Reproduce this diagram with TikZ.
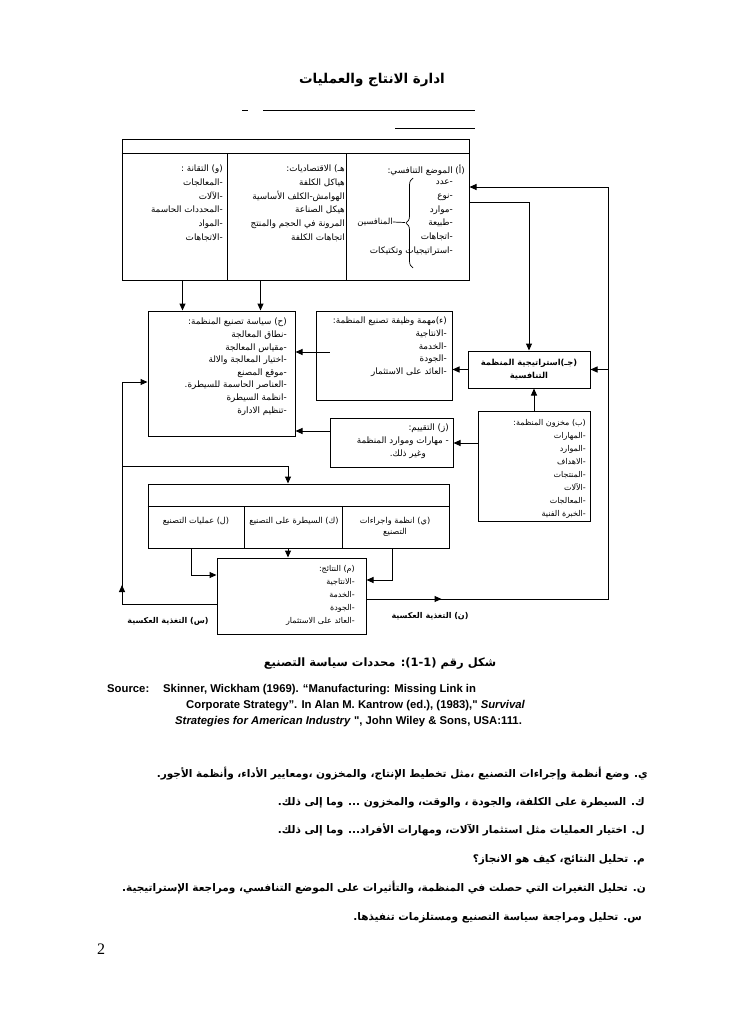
\documentclass[tikz,border=0pt]{standalone}
\usepackage{fontspec}
\usepackage{tikz}
\usetikzlibrary{arrows.meta, decorations.pathreplacing}
\setmainfont{Liberation Serif}
\newfontfamily\arabicfont[Script=Arabic]{DejaVu Sans}
\newfontfamily\srcfont{Liberation Sans}
\TeXXeTstate=1
\newcommand{\AR}[1]{\beginR#1\endR}

\begin{document}
\begin{tikzpicture}[x=1pt, y=-1pt]
    % 样式
    \tikzstyle{box} = [rectangle, draw, line width=1pt, inner sep=0pt]
    \tikzstyle{txt} = [inner sep=0pt, anchor=north east, align=right, font=\arabicfont\fontsize{8.8}{12.6}\selectfont]
    \tikzstyle{toptxt} = [txt, font=\arabicfont\fontsize{8.8}{13.7}\selectfont]
    \tikzstyle{smalltxt} = [txt, font=\arabicfont\fontsize{8}{13}\selectfont]
    \tikzstyle{cell} = [inner sep=0pt, align=center, font=\arabicfont\fontsize{8.2}{11.5}\selectfont]
    \tikzstyle{boldtxt} = [inner sep=0pt, font=\arabicfont\bfseries\fontsize{8}{13}\selectfont]
    \tikzstyle{para} = [inner sep=0pt, anchor=base east, font=\arabicfont\bfseries\fontsize{10.5}{12}\selectfont]
    \tikzstyle{src} = [inner sep=0pt, anchor=base west, font=\srcfont\bfseries\fontsize{11.3}{13}\selectfont]
    \tikzstyle{arrow} = [line width=1pt, -{Triangle[length=7pt, width=6pt]}]
    \tikzstyle{line} = [line width=1pt]

    \useasboundingbox (0,0) rectangle (728,1030);

    % 标题
    \node (title) [font=\arabicfont\bfseries\fontsize{13.5}{13.5}\selectfont] at (372,80) {\AR{ادارة الانتاج والعمليات}};
    \draw[line width=0.7pt] (242,110) -- (248,110);
    \draw[line width=0.7pt] (263,110) -- (475,110);
    \draw[line width=0.7pt] (395,128) -- (475,128);

    % 方框
    \node (env) [box, minimum width=347pt, minimum height=141pt] at (295.5,209.5) {};
    \draw[line] ([yshift=-15pt]env.north west) -- ([yshift=-15pt]env.north east);
    \draw[line] ([xshift=106pt,yshift=-15pt]env.north west) -- ([xshift=106pt]env.south west);
    \draw[line] ([xshift=225pt,yshift=-15pt]env.north west) -- ([xshift=225pt]env.south west);

    \node (policy) [box, minimum width=147pt, minimum height=125pt] at (221.5,373.5) {};
    \node (task) [box, minimum width=136pt, minimum height=89pt] at (384,355.5) {};
    \node (strategy) [box, minimum width=122pt, minimum height=37pt, align=center, font=\arabicfont\bfseries\fontsize{8.3}{13}\selectfont] at (529,369.5) {\AR{(جـ)استراتيجية المنظمة}\\\AR{التنافسية}};
    \node (review) [box, minimum width=123pt, minimum height=49pt] at (391.5,442.5) {};
    \node (stock) [box, minimum width=112pt, minimum height=110pt] at (534,466) {};
    \node (system) [box, minimum width=301pt, minimum height=64pt] at (298.5,516) {};
    \draw[line] ([yshift=-23pt]system.north west) -- ([yshift=-23pt]system.north east);
    \draw[line] ([xshift=97pt,yshift=-23pt]system.north west) -- ([xshift=97pt]system.south west);
    \draw[line] ([xshift=195pt,yshift=-23pt]system.north west) -- ([xshift=195pt]system.south west);
    \node (result) [box, minimum width=149pt, minimum height=76pt] at (291.5,596) {};

    % 文字
    \node (tA) [txt] at (465,165) {\AR{(أ) الموضع التنافسي:}};
    \node (iA) [toptxt] at (453,180) {\AR{-عدد}\\\AR{-نوع}\\\AR{-موارد}\\\AR{-طبيعة}\\\AR{-اتجاهات}\\\AR{-استراتيجيات وتكتيكات}};
    \node (rivals) [inner sep=0pt, font=\arabicfont\fontsize{8.4}{12}\selectfont] at (375,222) {\AR{المنافسين}};
    \coordinate (bracetip) at (405,222.5);
    \draw[line width=0.7pt, decorate, decoration={brace, amplitude=7pt}] (413,268) -- (413,178);
    \draw[line width=0.7pt] (rivals.east) -- (bracetip);
    \node (tH) [toptxt] at (345,165) {\AR{هـ) الاقتصاديات:}\\\AR{هياكل الكلفة}\\\AR{الهوامش-الكلف الأساسية}\\\AR{هيكل الصناعة}\\\AR{المرونة في الحجم والمنتج}\\\AR{اتجاهات الكلفة}};
    \node (tW) [toptxt] at (223,165) {\AR{(و) التقانة :}\\\AR{-المعالجات}\\\AR{-الآلات}\\\AR{-المحددات الحاسمة}\\\AR{-المواد}\\\AR{-الاتجاهات}};
    \node (tP) [txt] at (287,318) {\AR{(ح) سياسة تصنيع المنظمة:}\\\AR{-نطاق المعالجة}\\\AR{-مقياس المعالجة}\\\AR{-اختيار المعالجة والالة}\\\AR{-موقع المصنع}\\\AR{-العناصر الحاسمة للسيطرة.}\\\AR{-انظمة السيطرة}\\\AR{-تنظيم الادارة}};
    \node (tT) [txt] at (447,317) {\AR{(ء)مهمة وظيفة تصنيع المنظمة:}\\\AR{-الانتاجية}\\\AR{-الخدمة}\\\AR{-الجودة}\\\AR{-العائد على الاستثمار}};
    \node (tR) [txt] at (449,424) {\AR{(ز) التقييم:}\\\AR{- مهارات وموارد المنظمة}\\\AR{وغير ذلك.}\kern23pt};
    \node (tS) [smalltxt] at (586,419) {\AR{(ب) مخزون المنظمة:}\\\AR{-المهارات}\\\AR{-الموارد}\\\AR{-الاهداف}\\\AR{-المنتجات}\\\AR{-الآلات}\\\AR{-المعالجات}\\\AR{-الخبرة الفنية}};
    \node (cL) [cell] at (196,521) {\AR{(ل) عمليات التصنيع}};
    \node (cK) [cell] at (294,521) {\AR{(ك) السيطرة على التصنيع}};
    \node (cY) [cell] at (395,527) {\AR{(ي) انظمة واجراءات}\\\AR{التصنيع}};
    \node (tM) [smalltxt] at (355,565) {\AR{(م) النتائج:}\\\AR{-الانتاجية}\\\AR{-الخدمة}\\\AR{-الجودة}\\\AR{-العائد على الاستثمار}};
    \node (fbS) [boldtxt] at (168,621) {\AR{(س) التغذية العكسية}};
    \node (fbN) [boldtxt] at (430,616) {\AR{(ن) التغذية العكسية}};

    % 箭头
    \draw[arrow] ([xshift=35pt]policy.north west |- env.south) -- ([xshift=35pt]policy.north west);
    \draw[arrow] ([xshift=113pt]policy.north west |- env.south) -- ([xshift=113pt]policy.north west);
    \draw[arrow] ([yshift=7.5pt]env.east) -| (strategy.north);
    \coordinate (rtop) at (608,187);
    \draw[arrow] ([yshift=-3pt]result.east) -| (rtop) -- (rtop -| env.east);
    \draw[arrow] ([yshift=-3pt]result.east) -- ++(75,0);
    \draw[arrow] (strategy.east -| rtop) -- (strategy.east);
    \draw[arrow] (stock.north) -- (stock.north |- strategy.south);
    \draw[arrow] (strategy.west) -- (strategy.west -| task.east);
    \draw[arrow] ([xshift=14pt,yshift=3.5pt]task.west) -- ([yshift=3.5pt]task.west -| policy.east);
    \draw[arrow] ([yshift=11.5pt]review.west) -- ([yshift=11.5pt]review.west -| policy.east);
    \draw[arrow] ([yshift=23pt]stock.west) -- ([yshift=23pt]stock.west -| review.east);
    \coordinate (lbot) at (122,604);
    \coordinate (ltop) at (122,382);
    \coordinate (lmid) at (122,466);
    \draw[line] ([yshift=-8pt]result.west) -- (lbot) -- (ltop);
    \draw[arrow] (ltop) -- (ltop -| policy.west);
    \draw[arrow] (lbot) -- ++(0,-19);
    \draw[arrow] (lmid) -| ([xshift=-10.5pt]system.north);
    \draw[arrow] ([xshift=-10.5pt]system.south) -- ([xshift=-10.5pt]system.south |- result.north);
    \draw[arrow] ([xshift=44pt]system.south west) |- ([yshift=21pt]result.west);
    \draw[arrow] ([xshift=-57pt]system.south east) |- ([yshift=16pt]result.east);

    % 说明
    \node (caption) [font=\arabicfont\bfseries\fontsize{11.5}{11.5}\selectfont] at (380,664) {\AR{شكل رقم (1-1): محددات سياسة التصنيع}};
    \node (srclab) [src] at (107,692) {Source:};
    \node (src1) [src] at (163,692) {Skinner, Wickham (1969). “Manufacturing: Missing Link in};
    \node (src2) [src] at (186,708) {Corporate Strategy”. In Alan M. Kantrow (ed.), (1983)," \textit{Survival}};
    \node (src3) [src] at (175,724) {\textit{Strategies for American Industry} ", John Wiley \& Sons, USA:111.};

    \node (pY) [para] at (648,777) {\AR{ي. وضع أنظمة وإجراءات التصنيع ،مثل تخطيط الإنتاج، والمخزون ،ومعايير الأداء، وأنظمة الأجور.}};
    \node (pK) [para] at (645,805) {\AR{ك. السيطرة على الكلفة، والجودة ، والوقت، والمخزون ... وما إلى ذلك.}};
    \node (pL) [para] at (645,833) {\AR{ل. اختيار العمليات مثل استثمار الآلات، ومهارات الأفراد... وما إلى ذلك.}};
    \node (pM) [para] at (645,862) {\AR{م. تحليل النتائج، كيف هو الانجاز؟}};
    \node (pN) [para] at (646,891) {\AR{ن. تحليل التغيرات التي حصلت في المنظمة، والتأثيرات على الموضع التنافسي، ومراجعة الإستراتيجية.}};
    \node (pS) [para] at (642,920) {\AR{س. تحليل ومراجعة سياسة التصنيع ومستلزمات تنفيذها.}};

    \node (pnum) [anchor=base west, inner sep=0pt, font=\fontsize{16}{16}\selectfont] at (97,954) {2};
\end{tikzpicture}
\end{document}
